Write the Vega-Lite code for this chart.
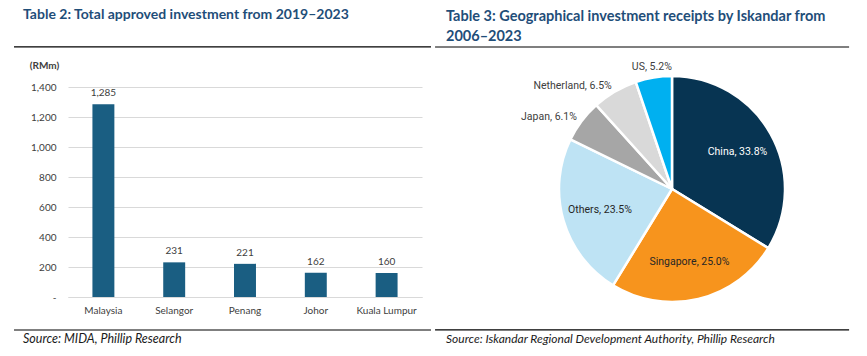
{
  "$schema": "https://vega.github.io/schema/vega-lite/v6.json",
  "background": "white",
  "padding": {"left": 13, "top": 8, "right": 0, "bottom": 0},
  "autosize": {"type": "pad"},
  "bounds": "flush",
  "spacing": 140,
  "config": {"view": {"stroke": null}, "font": "Lato"},
  "hconcat": [
    {
      "width": 354,
      "height": 210,
      "title": {"text": "Table 2: Total approved investment from 2019–2023", "anchor": "start", "frame": "group", "dx": -45, "offset": 24, "fontSize": 14, "fontWeight": "bold", "color": "#1f4e79", "font": "Lato"},
      "layer": [
        {
          "data": {"values": [
            {"region": "Malaysia", "value": 1285},
            {"region": "Selangor", "value": 231},
            {"region": "Penang", "value": 221},
            {"region": "Johor", "value": 162},
            {"region": "Kuala Lumpur", "value": 160}
          ]},
          "encoding": {
            "x": {"field": "region", "type": "nominal", "sort": null, "scale": {"paddingInner": 0.69, "paddingOuter": 0.345},
              "axis": {"title": null, "labelAngle": 0, "ticks": false, "labelPadding": 8, "labelFontSize": 10, "labelColor": "#404040", "domainColor": "#d9d9d9", "labelFont": "Lato"}},
            "y": {"field": "value", "type": "quantitative", "scale": {"domain": [0, 1400], "nice": false, "zero": true},
              "axis": {"title": "(RMm)", "titleAngle": 0, "titleX": -24, "titleY": -22, "titleAlign": "center", "titleBaseline": "middle", "titleFontSize": 10, "titleFontWeight": "bold", "titleColor": "#404040", "titleFont": "Lato",
                "values": [0, 200, 400, 600, 800, 1000, 1200, 1400], "labelExpr": "datum.value === 0 ? '-' : format(datum.value, ',')", "labelOverlap": false,
                "domain": false, "ticks": false, "labelPadding": 12, "labelFontSize": 10, "labelColor": "#404040", "gridColor": "#d9d9d9", "labelFont": "Lato"}}
          },
          "layer": [
            {"mark": {"type": "bar", "color": "#1a5e82"}},
            {"mark": {"type": "text", "dy": -11, "fontSize": 10, "color": "#404040", "font": "Lato"},
              "encoding": {"text": {"field": "value", "type": "quantitative", "format": ","}}}
          ]
        },
        {
          "data": {"values": [{"rule": "title underline"}]},
          "mark": {"type": "rule", "color": "#000000", "strokeWidth": 1.2},
          "encoding": {
            "x": {"datum": -0.1525, "type": "quantitative", "scale": {"domain": [0, 1], "nice": false, "zero": false}, "axis": null},
            "x2": {"datum": 1.0254},
            "y": {"datum": 1667, "type": "quantitative", "scale": {"domain": [0, 1400], "nice": false, "zero": true}, "axis": null}
          }
        },
        {
          "data": {"values": [{"rule": "source line"}]},
          "mark": {"type": "rule", "color": "#000000", "strokeWidth": 1.2},
          "encoding": {
            "x": {"datum": -0.1525, "type": "quantitative", "scale": {"domain": [0, 1], "nice": false, "zero": false}, "axis": null},
            "x2": {"datum": 1.0254},
            "y": {"datum": -220, "type": "quantitative", "scale": {"domain": [0, 1400], "nice": false, "zero": true}, "axis": null}
          }
        },
        {
          "data": {"values": [{"source": "Source: MIDA, Phillip Research"}]},
          "mark": {"type": "text", "align": "left", "baseline": "middle", "fontSize": 12.5, "fontStyle": "italic", "color": "#1a1a1a", "font": "Lato"},
          "encoding": {
            "text": {"field": "source", "type": "nominal"},
            "x": {"datum": -0.127, "type": "quantitative", "scale": {"domain": [0, 1], "nice": false, "zero": false}, "axis": null},
            "y": {"datum": -280, "type": "quantitative", "scale": {"domain": [0, 1400], "nice": false, "zero": true}, "axis": null}
          }
        }
      ],
      "resolve": {"scale": {"x": "independent", "y": "independent"}}
    },
    {
      "width": 220,
      "height": 204,
      "title": {"text": ["Table 3: Geographical investment receipts by Iskandar from", "2006–2023"], "anchor": "start", "frame": "group", "dx": -116, "offset": 2, "lineHeight": 20, "fontSize": 14.5, "fontWeight": "bold", "color": "#1f4e79", "font": "Lato"},
      "layer": [
        {
          "data": {"values": [
            {"country": "China", "share": 33.8, "label": "China, 33.8%"},
            {"country": "Singapore", "share": 25.0, "label": "Singapore, 25.0%"},
            {"country": "Others", "share": 23.5, "label": "Others, 23.5%"},
            {"country": "Japan", "share": 6.1, "label": "Japan, 6.1%"},
            {"country": "Netherland", "share": 6.5, "label": "Netherland, 6.5%"},
            {"country": "US", "share": 5.2, "label": "US, 5.2%"}
          ]},
          "transform": [{"window": [{"op": "row_number", "as": "idx"}]}],
          "encoding": {
            "theta": {"field": "share", "type": "quantitative", "stack": true},
            "order": {"field": "idx", "type": "quantitative"}
          },
          "layer": [
            {
              "mark": {"type": "arc", "outerRadius": 113, "stroke": "white", "strokeWidth": 2.5},
              "encoding": {
                "color": {"field": "country", "type": "nominal", "legend": null,
                  "scale": {"domain": ["China", "Singapore", "Others", "Japan", "Netherland", "US"], "range": ["#073452", "#f7941d", "#bee3f4", "#a6a6a6", "#d9d9d9", "#00b0f0"]}}
              }
            },
            {
              "mark": {"type": "text", "radius": 75, "fontSize": 10.5, "font": "Roboto", "align": "center", "baseline": "middle"},
              "encoding": {
                "text": {"field": "label", "type": "nominal"},
                "color": {"condition": {"test": "datum.country === 'China'", "value": "#ffffff"}, "value": "#262626"},
                "opacity": {"condition": {"test": "datum.country === 'China' || datum.country === 'Singapore' || datum.country === 'Others'", "value": 1}, "value": 0}
              }
            },
            {
              "mark": {"type": "text", "radius": 119, "fontSize": 10.5, "font": "Roboto", "align": "right", "baseline": "middle", "color": "#404040"},
              "encoding": {
                "text": {"field": "label", "type": "nominal"},
                "opacity": {"condition": {"test": "datum.country === 'Japan' || datum.country === 'Netherland'", "value": 1}, "value": 0}
              }
            },
            {
              "mark": {"type": "text", "radius": 124, "fontSize": 10.5, "font": "Roboto", "align": "center", "baseline": "middle", "color": "#404040"},
              "encoding": {
                "text": {"field": "label", "type": "nominal"},
                "opacity": {"condition": {"test": "datum.country === 'US'", "value": 1}, "value": 0}
              }
            }
          ]
        },
        {
          "data": {"values": [{"rule": "title underline"}]},
          "mark": {"type": "rule", "color": "#000000", "strokeWidth": 1.2},
          "encoding": {
            "x": {"datum": -0.577, "type": "quantitative", "scale": {"domain": [0, 1], "nice": false, "zero": false}, "axis": null},
            "x2": {"datum": 1.305},
            "y": {"datum": 1.196, "type": "quantitative", "scale": {"domain": [0, 1], "nice": false, "zero": false}, "axis": null}
          }
        },
        {
          "data": {"values": [{"rule": "source line"}]},
          "mark": {"type": "rule", "color": "#000000", "strokeWidth": 1.2},
          "encoding": {
            "x": {"datum": -0.577, "type": "quantitative", "scale": {"domain": [0, 1], "nice": false, "zero": false}, "axis": null},
            "x2": {"datum": 1.305},
            "y": {"datum": -0.191, "type": "quantitative", "scale": {"domain": [0, 1], "nice": false, "zero": false}, "axis": null}
          }
        },
        {
          "data": {"values": [{"source": "Source: Iskandar Regional Development Authority, Phillip Research"}]},
          "mark": {"type": "text", "align": "left", "baseline": "middle", "fontSize": 12, "fontStyle": "italic", "color": "#1a1a1a", "font": "Lato"},
          "encoding": {
            "text": {"field": "source", "type": "nominal"},
            "x": {"datum": -0.527, "type": "quantitative", "scale": {"domain": [0, 1], "nice": false, "zero": false}, "axis": null},
            "y": {"datum": -0.235, "type": "quantitative", "scale": {"domain": [0, 1], "nice": false, "zero": false}, "axis": null}
          }
        }
      ]
    }
  ]
}
